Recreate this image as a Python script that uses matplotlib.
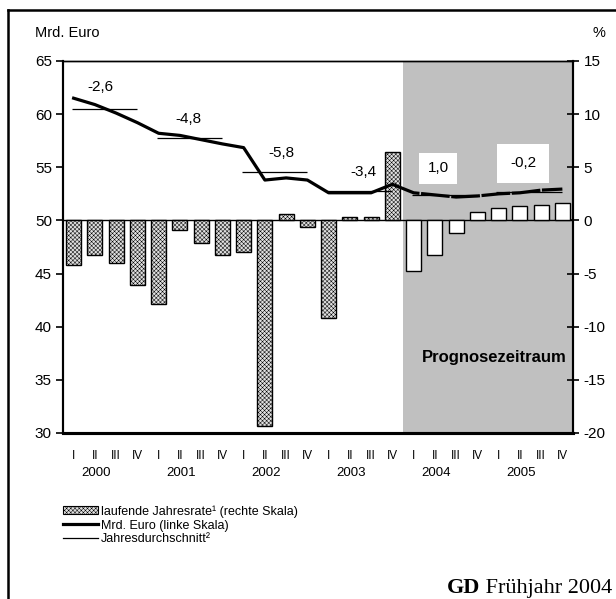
import matplotlib
matplotlib.use("Agg")
import matplotlib.pyplot as plt
from matplotlib.patches import Patch
from matplotlib.lines import Line2D
import numpy as np

plt.rcParams['font.family'] = ['Liberation Sans', 'DejaVu Sans']
plt.rcParams['hatch.linewidth'] = 0.35
plt.rcParams['axes.unicode_minus'] = False

# data
years = ["2000", "2001", "2002", "2003", "2004", "2005"]
quarters = ["I", "II", "III", "IV"] * 6
# laufende Jahresrate in % (rechte Skala)
rate = [-4.2, -3.25, -4.0, -6.1,
        -7.9, -0.9, -2.1, -3.25,
        -3.0, -19.3, 0.6, -0.6,
        -9.2, 0.35, 0.35, 6.4,
        -4.8, -3.25, -1.15, 0.75,
        1.2, 1.35, 1.45, 1.6]
# Mrd. Euro (linke Skala)
mrd = [61.5, 60.9, 60.1, 59.2,
       58.2, 58.0, 57.6, 57.2,
       56.85, 53.8, 54.0, 53.8,
       52.6, 52.6, 52.6, 53.4,
       52.6, 52.4, 52.2, 52.3,
       52.5, 52.6, 52.85, 52.95]
# Jahresdurchschnitt
avg = [60.5, 57.8, 54.6, 52.8, 52.4, 52.7]
avg_labels = ["-2,6", "-4,8", "-5,8", "-3,4", "1,0", "-0,2"]
# label positions (x in quarters, y in Mrd. Euro)
lab_x = [1.24, 5.38, 9.76, 13.66, 17.15, 21.15]
lab_y = [62.55, 59.5, 56.35, 54.55, 54.9, 55.4]

n_hist = 16
x = np.arange(len(rate))

fig = plt.figure(figsize=(6.16, 5.99), dpi=100)
ax = fig.add_axes([63/616, 1-433/599, 510/616, 372/599])
ax2 = ax.twinx()
ax.set_zorder(3)
ax.patch.set_visible(False)

# prognosis shading + bars on right axis
ax2.axvspan(n_hist - 0.5, len(rate) - 0.5, color='#c0c0c0', lw=0, zorder=0)
ax2.bar(x[:n_hist], rate[:n_hist], width=0.7, facecolor='#e0e0e0',
        edgecolor='black', linewidth=1.0, hatch='xxxxxxxx', zorder=2)
ax2.bar(x[n_hist:], rate[n_hist:], width=0.7, facecolor='white',
        edgecolor='black', linewidth=1.0, zorder=2)
ax2.axhline(0, color='black', lw=1.0, zorder=1)
ax2.set_ylim(-20, 15)
ax2.set_yticks(range(-20, 16, 5))
ax2.tick_params(axis='y', direction='inout', length=9, width=1.2, labelsize=11, pad=3)

# Mrd. Euro line + annual averages
ax.plot(x[:n_hist], mrd[:n_hist], color='black', lw=2.3, zorder=5, solid_joinstyle='round')
ax.plot(x[n_hist - 1:], mrd[n_hist - 1:], color='black', lw=2.3, zorder=5,
        linestyle=(0, (9, 0.5)))
for i, v in enumerate(avg):
    ax.hlines(v, 4 * i - 0.1, 4 * i + 3, color='black', lw=0.9, zorder=4)
for i, s in enumerate(avg_labels):
    box = None
    if i >= 4:
        box = dict(facecolor='white', edgecolor='none', pad=6 if i == 4 else 9)
    ax.text(lab_x[i], lab_y[i], s, ha='center', va='center', fontsize=11,
            bbox=box, zorder=6)

ax.text(19.8, 37.15, "Prognosezeitraum", ha='center', va='center',
        fontsize=12, fontweight='bold')

ax.set_xlim(-0.5, len(rate) - 0.5)
ax.set_ylim(30, 65)
ax.set_yticks(range(30, 66, 5))
ax.tick_params(axis='y', direction='out', length=5, width=1.2, labelsize=11, pad=3)
ax.set_xticks(np.arange(-0.5, len(rate), 4))
ax.set_xticklabels([])
ax.set_xticks(x, minor=True)
ax.set_xticklabels(quarters, minor=True, fontsize=8.5,
                   family=['Liberation Sans Narrow', 'Liberation Sans'])
ax.tick_params(axis='x', which='major', direction='inout', length=9, width=1.2)
ax.tick_params(axis='x', which='minor', length=0, pad=12)
ax2.set_xticks([])

for i, yr in enumerate(years):
    ax.text(4 * i + 1.05, -0.107, yr, transform=ax.get_xaxis_transform(),
            ha='center', va='center', fontsize=9.5,
            family=['Liberation Sans Narrow', 'Liberation Sans'])

for a in (ax, ax2):
    a.spines['top'].set_linewidth(1.0)
    a.spines['bottom'].set_linewidth(2.2)
    a.spines['left'].set_linewidth(1.5)
    a.spines['right'].set_linewidth(1.5)

fig.text(35/616, 1-33/599, "Mrd. Euro", fontsize=10.5, va='center', ha='left')
fig.text(599/616, 1-33/599, "%", fontsize=10.5, va='center', ha='center')

handles = [Patch(facecolor='#e0e0e0', edgecolor='black', hatch='xxxxxxxx', lw=0.8),
           Line2D([], [], color='black', lw=2.3),
           Line2D([], [], color='black', lw=0.9)]
labels = ["laufende Jahresrate\u00b9 (rechte Skala)",
          "Mrd. Euro (linke Skala)",
          "Jahresdurchschnitt\u00b2"]
fig.legend(handles, labels, loc='upper left', bbox_to_anchor=(57/616, 1-499/599),
           frameon=False, fontsize=9, handlelength=2.8, handleheight=0.6,
           handletextpad=0.2, labelspacing=0.15, borderpad=0)

# footer: bold "GD" followed by plain text
t1 = fig.text(612/616, 1-588/599, " Fr\u00fchjahr 2004", fontsize=16,
              family='Liberation Serif', ha='right', va='center')
fig.canvas.draw()
bb = t1.get_window_extent()
fig.text(bb.x0 / 616, 1-588/599, "GD", fontsize=16, family='Liberation Serif',
         fontweight='bold', ha='right', va='center')

# outer frame
fig.add_artist(Line2D([8/616, 1.0], [1-10/599, 1-10/599], color='black', lw=1.8,
                      transform=fig.transFigure))
fig.add_artist(Line2D([8/616, 8/616], [1-10/599, 0], color='black', lw=1.8,
                      transform=fig.transFigure))

fig.savefig("out.png", dpi=100)
